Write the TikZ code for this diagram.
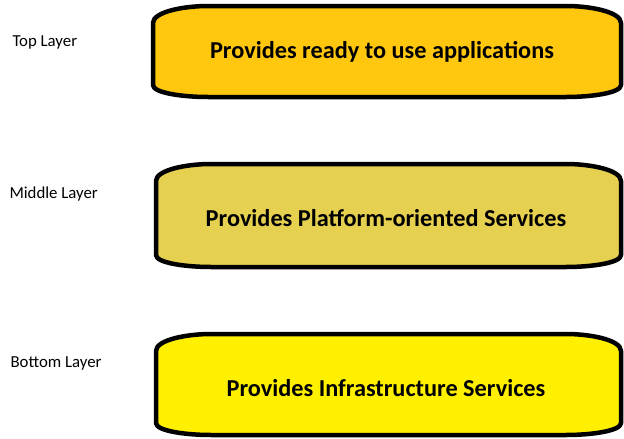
\documentclass[tikz,border=0pt]{standalone}
\usepackage{fontspec}
\setmainfont{Carlito}
\definecolor{topfill}{RGB}{255,200,15}
\definecolor{midfill}{RGB}{230,208,80}
\definecolor{botfill}{RGB}{255,240,0}
\tikzset{
  layerbox/.style={draw=black, line width=4.5pt, line join=round},
  boxtext/.style={font=\fontsize{24.3}{28}\selectfont\bfseries, text=black},
  sidelabel/.style={font=\fontsize{16.8}{19}\selectfont, anchor=west, text=black}
}
% #1 left, #2 right, #3 top, #4 bottom (y-down pixel values), #5 fill colour
\newcommand\layerpath[5]{%
  \filldraw[layerbox, fill=#5]
    (#1,#3+17) .. controls (#1,#3+6) and (#1+30,#3) .. (#1+55,#3)
    -- (#2-55,#3) .. controls (#2-30,#3) and (#2,#3+6) .. (#2,#3+17)
    -- (#2,#4-12) .. controls (#2,#4-4) and (#2-30,#4) .. (#2-55,#4)
    -- (#1+55,#4) .. controls (#1+30,#4) and (#1,#4-4) .. (#1,#4-12) -- cycle;}
\begin{document}
\begin{tikzpicture}[x=1pt,y=-1pt]
\useasboundingbox (0,0) rectangle (624,439);
\layerpath{153}{621}{6}{97}{topfill}
\layerpath{156}{621}{164}{267}{midfill}
\layerpath{156}{621}{334}{435}{botfill}
\node[boxtext] (t1) at (382,52) {Provides ready to use applications};
\node[boxtext] (t2) at (386,218) {Provides Platform-oriented Services};
\node[boxtext] (t3) at (386,388) {Provides Infrastructure Services};
\node[sidelabel] (l1) at (9,42) {Top Layer};
\node[sidelabel] (l2) at (6,194) {Middle Layer};
\node[sidelabel] (l3) at (7,363) {Bottom Layer};
\end{tikzpicture}
\end{document}
